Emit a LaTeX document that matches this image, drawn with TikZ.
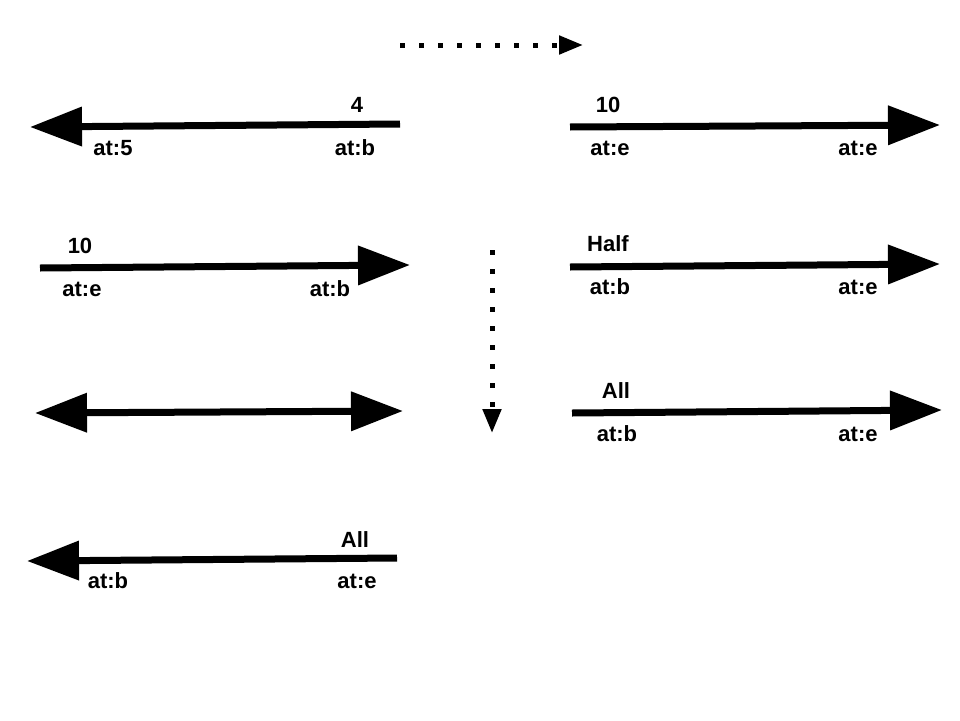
\documentclass[tikz,border=0pt]{standalone}
\usepackage{fontspec}
\setmainfont{Liberation Sans}
\usetikzlibrary{arrows.meta}

\tikzset{
  bigarrow/.style={line width=7pt, -{Triangle[length=52pt,width=38pt]}},
  dotarrow/.style={line width=5pt, dash pattern=on 5pt off 14pt, -{Triangle[length=24pt,width=18pt]}},
  lbl/.style={inner sep=0pt, font=\bfseries\fontsize{22}{26}\selectfont},
}

\begin{document}
\begin{tikzpicture}[x=1pt, y=-1pt]
    \useasboundingbox (0,0) rectangle (960,720);
    % end points
    \coordinate (a1) at (400,124);
    \coordinate (a2) at (30,127);
    \coordinate (b1) at (570,127);
    \coordinate (b2) at (940,125);
    \coordinate (c1) at (40,268);
    \coordinate (c2) at (410,265);
    \coordinate (d1) at (570,267);
    \coordinate (d2) at (940,264);
    \coordinate (e1) at (35,413);
    \coordinate (e2) at (403,411);
    \coordinate (f1) at (572,413);
    \coordinate (f2) at (942,410);
    \coordinate (g1) at (397,558);
    \coordinate (g2) at (27,561);
    \coordinate (h1) at (400,45);
    \coordinate (h2) at (583,45);
    \coordinate (v1) at (492,250);
    \coordinate (v2) at (492,433);
    % arrows
    \draw[bigarrow] (a1) -- (a2);
    \draw[bigarrow] (b1) -- (b2);
    \draw[bigarrow] (c1) -- (c2);
    \draw[bigarrow] (d1) -- (d2);
    \draw[line width=7pt, {Triangle[length=52pt,width=38pt]}-{Triangle[length=52pt,width=38pt]}] (e1) -- (e2);
    \draw[bigarrow] (f1) -- (f2);
    \draw[bigarrow] (g1) -- (g2);
    \draw[dotarrow] (h1) -- (h2);
    \draw[dotarrow] (v1) -- (v2);
    % labels
    \node[lbl] (a-top) at (357,105) {4};
    \node[lbl] (a-l) at (113,148) {at:5};
    \node[lbl] (a-r) at (355,148) {at:b};
    \node[lbl] (b-top) at (608,105) {10};
    \node[lbl] (b-l) at (610,148) {at:e};
    \node[lbl] (b-r) at (858,148) {at:e};
    \node[lbl] (c-top) at (80,246) {10};
    \node[lbl] (c-l) at (82,289) {at:e};
    \node[lbl] (c-r) at (330,289) {at:b};
    \node[lbl] (d-top) at (608,244) {Half};
    \node[lbl] (d-l) at (610,287) {at:b};
    \node[lbl] (d-r) at (858,287) {at:e};
    \node[lbl] (f-top) at (616,391) {All};
    \node[lbl] (f-l) at (617,434) {at:b};
    \node[lbl] (f-r) at (858,434) {at:e};
    \node[lbl] (g-top) at (355,540) {All};
    \node[lbl] (g-l) at (108,581) {at:b};
    \node[lbl] (g-r) at (357,581) {at:e};
\end{tikzpicture}
\end{document}
